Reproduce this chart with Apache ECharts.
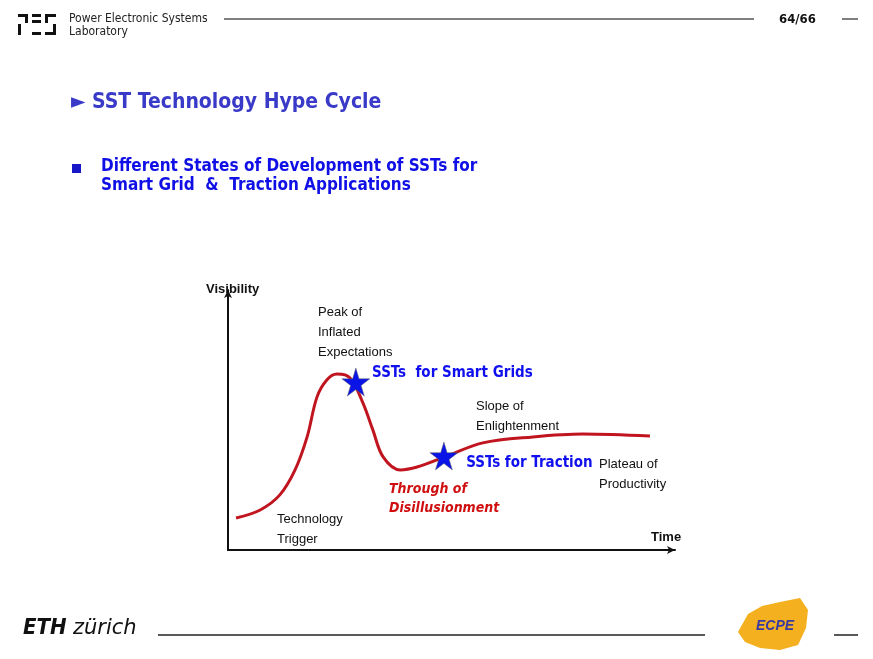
<!DOCTYPE html>
<html>
<head>
<meta charset="utf-8">
<script src="https://cdn.jsdelivr.net/npm/echarts@6/dist/echarts.min.js"></script>
<style>
html,body{margin:0;padding:0;background:#fff;}
#main{width:873px;height:659px;}
</style>
</head>
<body>
<div id="main"></div>
<script>
// hype curve (x: time 0-100, y: visibility 0-100)
var curveX = [1.8, 7.2, 11.6, 15.0, 17.7, 19.9, 22.1, 24.4, 27.3, 30.2, 32.4, 34.7, 38.5, 42.3, 48.5, 57.0, 68.2, 79.4, 94.4];
var curveY = [12.3, 15.4, 21.2, 30.8, 43.5, 58.8, 65.4, 67.7, 66.2, 56.5, 46.2, 35.8, 30.8, 31.9, 35.8, 41.2, 43.5, 44.6, 43.8];
var starNames = ['SSTs  for Smart Grids', 'SSTs for Traction'];
var starX = [28.6, 48.3];
var starY = [64.6, 36.2];

var myChart = echarts.init(document.getElementById('main'));
var narrow = '"Liberation Sans Narrow", "Liberation Sans", sans-serif';
var cond = '"DejaVu Sans Condensed", "DejaVu Sans", sans-serif';

function txt(x, y, s, opt) {
  opt = opt || {};
  return {
    type: 'text', left: x, top: y,
    style: {
      text: s, fill: opt.color || '#111',
      font: (opt.style || '') + ' ' + (opt.weight || 'normal') + ' ' + (opt.size || 13) + 'px ' + (opt.family || narrow),
      lineHeight: opt.lh || 20
    }
  };
}
function line(x1, y1, x2, y2, w, c) {
  return { type: 'line', shape: { x1: x1, y1: y1, x2: x2, y2: y2 }, style: { stroke: c || '#333', lineWidth: w || 1 } };
}
function box(x, y, w, h) {
  return { type: 'rect', shape: { x: x, y: y, width: w, height: h }, style: { fill: '#111' } };
}

var option = {
  animation: false,
  grid: { left: 228, right: 198, top: 290, bottom: 109 },
  xAxis: {
    type: 'value', min: 0, max: 100,
    axisLine: { lineStyle: { color: '#111', width: 2 }, symbol: ['none', 'arrow'], symbolSize: [6, 8] },
    axisTick: { show: false }, axisLabel: { show: false }, splitLine: { show: false }
  },
  yAxis: {
    type: 'value', min: 0, max: 100,
    axisLine: { show: true, lineStyle: { color: '#111', width: 2 }, symbol: ['none', 'arrow'], symbolSize: [6, 8] },
    axisTick: { show: false }, axisLabel: { show: false }, splitLine: { show: false }
  },
  series: [
    {
      type: 'line', smooth: 0.35, symbol: 'none', z: 2,
      lineStyle: { color: '#c0141e', width: 3 },
      data: curveX.map(function (x, i) { return [x, curveY[i]]; })
    },
    {
      type: 'scatter', z: 5,
      symbol: 'path://M50,0 L61,35 L98,35 L68,57 L79,91 L50,70 L21,91 L32,57 L2,35 L39,35 Z',
      symbolSize: 28,
      itemStyle: { color: '#0a14e6', opacity: 1, borderColor: '#666', borderWidth: 0.5 },
      label: {
        show: true, position: 'right', distance: 2, color: '#1010ee',
        fontFamily: cond, fontWeight: 'bold', fontSize: 15,
        formatter: function (p) { return starNames[p.dataIndex]; }
      },
      data: [
        { value: [starX[0], starY[0]], label: { offset: [0, -9] } },
        { value: [starX[1], starY[1]], label: { offset: [6, 7] } }
      ]
    }
  ],
  graphic: [
    // header logo
    box(18, 14, 10, 3), box(25, 14, 3, 9), box(18, 24, 3, 11),
    box(32, 14, 9, 3), box(32, 20, 9, 3), box(32, 32, 9, 3),
    box(45, 14, 11, 3), box(45, 14, 3, 9), box(53, 24, 3, 11), box(45, 32, 11, 3),
    txt(69, 12, 'Power Electronic Systems\nLaboratory', { size: 12, lh: 13, family: cond, color: '#222' }),
    line(224, 19, 754, 19, 1.5, '#555'),
    txt(779, 10, '64/66', { size: 13, weight: 'bold', family: cond }),
    line(842, 19, 858, 19, 1.5, '#555'),
    // titles
    txt(71, 92, '► SST Technology Hype Cycle', { size: 21, weight: 'bold', family: cond, color: '#3a3ac8' }),
    { type: 'rect', shape: { x: 72, y: 164, width: 9, height: 9 }, style: { fill: '#1818c8' } },
    txt(101, 157, 'Different States of Development of SSTs for\nSmart Grid  &  Traction Applications', { size: 17, weight: 'bold', family: cond, color: '#1010e6', lh: 19 }),
    // chart labels
    txt(206, 279, 'Visibility', { size: 13, weight: 'bold' }),
    txt(318, 302, 'Peak of\nInflated\nExpectations'),
    txt(476, 396, 'Slope of\nEnlightenment'),
    txt(599, 454, 'Plateau of\nProductivity'),
    txt(277, 509, 'Technology\nTrigger'),
    txt(389, 480, 'Through of\nDisillusionment', { size: 14, weight: 'bold', style: 'italic', family: cond, color: '#d01010', lh: 19 }),
    txt(651, 527, 'Time', { size: 13, weight: 'bold' }),
    // footer
    txt(23, 617, 'ETH', { size: 22, weight: 'bold', style: 'italic', family: cond }),
    txt(73, 618, 'zürich', { size: 21, style: 'italic', family: '"DejaVu Sans", sans-serif' }),
    line(158, 635, 705, 635, 1.5, '#222'),
    { type: 'polygon', shape: { points: [[738, 632], [748, 614], [762, 606], [780, 602], [800, 598], [808, 610], [806, 628], [798, 645], [780, 650], [760, 648], [745, 642]] }, style: { fill: '#f5b020' } },
    txt(756, 616, 'ECPE', { size: 14, weight: 'bold', style: 'italic', family: narrow, color: '#3a3aa0' }),
    line(834, 635, 858, 635, 1.5, '#222')
  ]
};
myChart.setOption(option);
</script>
</body>
</html>
